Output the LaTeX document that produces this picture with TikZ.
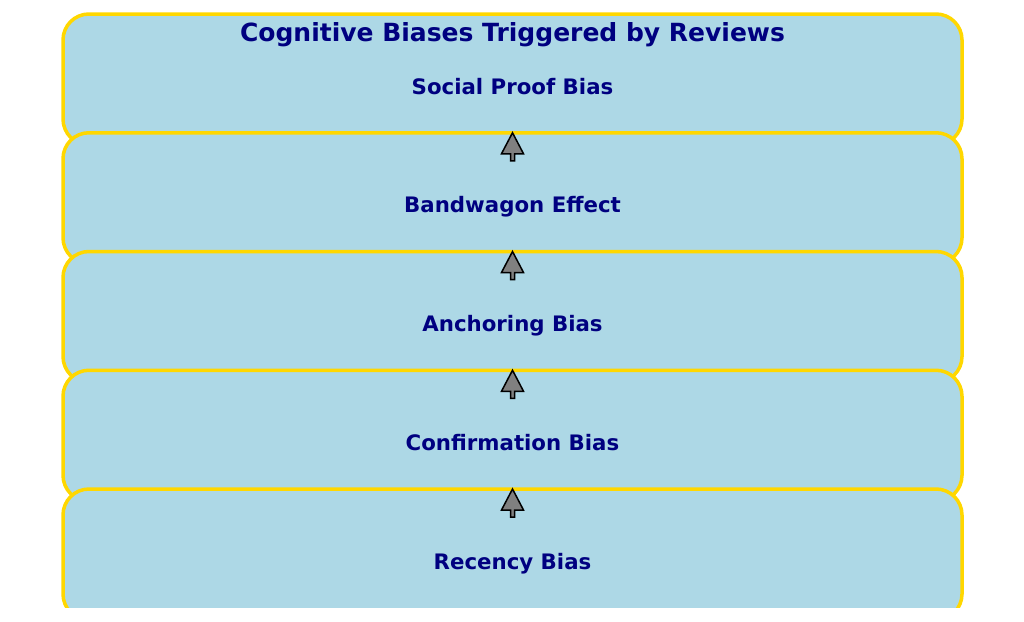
\documentclass[tikz,border=0pt]{standalone}
\usepackage{fontspec}
\setmainfont{DejaVu Sans}
\definecolor{boxblue}{RGB}{173,216,230}
\definecolor{boxgold}{RGB}{255,215,0}
\definecolor{textnavy}{RGB}{0,0,128}
\tikzset{
	biasbox/.style={draw=boxgold, fill=boxblue, line width=3.5pt, rounded corners=26pt,
		minimum width=899pt, minimum height=131pt, inner sep=0pt, outer sep=0pt},
	biastext/.style={text=textnavy, font=\bfseries\fontsize{21.3}{25}\selectfont, anchor=base},
	titolo/.style={text=textnavy, font=\bfseries\fontsize{25}{30}\selectfont, anchor=base},
	freccia/.style={fill=gray, draw=black, line width=1.5pt}
}
\begin{document}
\begin{tikzpicture}[x=1pt,y=-1pt]
	\useasboundingbox (0,0) rectangle (1024,621);
	\begin{scope}
		\clip (0,0) rectangle (1024,607);
		% riquadri
		\foreach \n/\testo in {1/Social Proof Bias, 2/Bandwagon Effect, 3/Anchoring Bias, 4/Confirmation Bias, 5/Recency Bias} {
			\node[biasbox] (b\n) at (512.5,{79.5+118.75*(\n-1)}) {};
			\node[biastext] (t\n) at ([yshift=-14.5pt]b\n.center) {\testo};
		}
	\end{scope}
	
	% titolo
	\node[titolo] (titolo) at ([yshift=-27.5pt]b1.north) {Cognitive Biases Triggered by Reviews};
	
	% frecce verso l'alto
	\foreach \n in {2,...,5}
		\draw[freccia] (b\n.north) -- ++(-11,21) -- ++(9,0) -- ++(0,7) -- ++(4,0) -- ++(0,-7) -- ++(9,0) -- cycle;
\end{tikzpicture}
\end{document}
